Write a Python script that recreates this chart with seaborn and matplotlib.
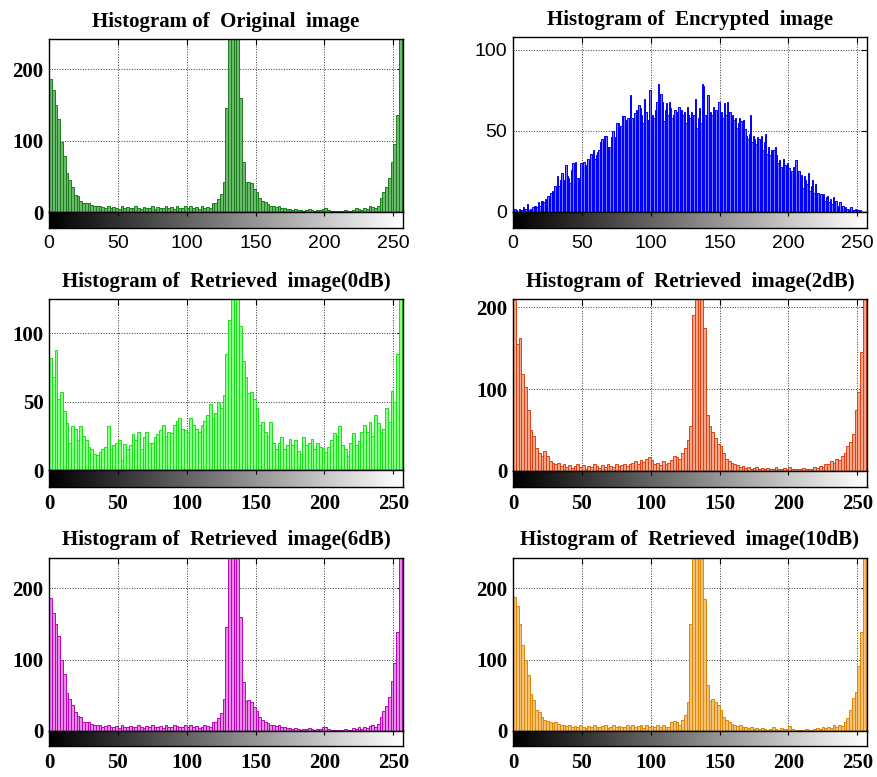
import numpy as np
import pandas as pd
import seaborn as sns
import matplotlib.pyplot as plt

# histogram counts, 2-level bins (0,2,4,...,254) except the encrypted one (1-level bins)
original = [186, 170, 150, 130, 98, 78, 55, 45, 35, 24,
            22, 15, 13, 12, 12, 10, 9, 8, 8, 7,
            6, 8, 5, 7, 6, 4, 9, 5, 7, 6,
            5, 8, 6, 4, 7, 5, 6, 8, 4, 7,
            5, 6, 9, 5, 7, 4, 8, 6, 5, 8,
            6, 9, 5, 7, 4, 8, 6, 7, 5, 13,
            12, 18, 25, 42, 145, 300, 300, 300, 250, 160,
            70, 42, 42, 40, 32, 28, 20, 16, 14, 11,
            9, 9, 7, 8, 6, 5, 4, 4, 3, 4,
            3, 3, 2, 3, 4, 3, 2, 3, 3, 4,
            6, 3, 2, 2, 1, 2, 2, 3, 2, 2,
            3, 5, 4, 3, 5, 4, 8, 7, 6, 9,
            20, 28, 35, 47, 70, 95, 136, 300]

encrypted = [1, 2, 1, 0, 2, 1, 1, 3, 1, 2, 5, 1, 2, 1, 3, 4,
             4, 3, 6, 4, 7, 7, 6, 8, 7, 10, 9, 12, 13, 11, 16, 15,
             22, 16, 20, 24, 18, 20, 29, 22, 21, 18, 26, 30, 20, 31, 21, 20,
             21, 30, 28, 31, 29, 26, 33, 30, 36, 28, 38, 33, 35, 37, 38, 43,
             45, 41, 47, 47, 40, 38, 40, 46, 50, 43, 46, 55, 55, 49, 53, 59,
             59, 57, 53, 58, 56, 72, 58, 53, 61, 63, 60, 66, 64, 60, 55, 70,
             62, 57, 50, 75, 43, 60, 58, 63, 68, 79, 62, 73, 68, 56, 63, 67,
             60, 68, 64, 58, 60, 63, 55, 62, 65, 57, 63, 60, 62, 55, 65, 60,
             58, 62, 55, 60, 70, 52, 58, 64, 55, 79, 78, 60, 56, 72, 58, 62,
             60, 65, 55, 63, 60, 68, 57, 62, 58, 67, 60, 68, 55, 62, 56, 60,
             57, 58, 52, 55, 58, 56, 50, 57, 51, 47, 45, 48, 60, 43, 47, 45,
             42, 46, 45, 40, 47, 38, 43, 48, 36, 40, 35, 38, 33, 38, 40, 35,
             30, 32, 28, 26, 33, 29, 25, 30, 27, 22, 25, 28, 20, 32, 22, 25,
             18, 23, 15, 22, 20, 17, 24, 13, 16, 20, 12, 17, 10, 12, 8, 11,
             9, 11, 7, 9, 10, 6, 8, 5, 9, 5, 7, 3, 4, 6, 3, 4,
             2, 3, 2, 1, 2, 3, 1, 1, 2, 1, 1, 0, 1, 0, 0, 0]

retrieved_0db = [82, 68, 88, 52, 57, 43, 34, 20, 32, 30,
                 22, 32, 25, 22, 17, 15, 12, 11, 13, 15,
                 17, 32, 15, 18, 20, 22, 7, 19, 15, 18,
                 26, 22, 28, 15, 24, 28, 20, 20, 24, 26,
                 29, 33, 25, 28, 27, 33, 36, 38, 30, 29,
                 28, 38, 33, 30, 28, 33, 36, 40, 48, 38,
                 42, 50, 45, 55, 85, 110, 130, 130, 130, 105,
                 80, 68, 56, 57, 52, 45, 33, 35, 28, 25,
                 35, 20, 15, 20, 24, 15, 18, 23, 18, 22,
                 14, 12, 24, 18, 20, 23, 15, 20, 17, 16,
                 13, 17, 22, 27, 25, 32, 18, 15, 10, 20,
                 27, 18, 21, 28, 33, 28, 35, 25, 40, 34,
                 28, 30, 45, 35, 58, 50, 85, 130]

retrieved_2db = [215, 155, 162, 118, 103, 75, 50, 43, 28, 22,
                 18, 25, 18, 12, 10, 8, 10, 6, 8, 5,
                 7, 4, 6, 8, 5, 7, 3, 6, 5, 8,
                 6, 4, 7, 5, 9, 6, 5, 8, 6, 7,
                 9, 6, 8, 10, 12, 9, 14, 11, 15, 17,
                 13, 8, 10, 7, 12, 9, 10, 14, 18, 17,
                 15, 22, 28, 38, 55, 190, 230, 230, 230, 175,
                 68, 55, 48, 40, 33, 30, 22, 15, 12, 10,
                 8, 7, 5, 6, 4, 5, 3, 4, 5, 3,
                 4, 3, 4, 2, 3, 5, 3, 2, 4, 3,
                 5, 3, 2, 3, 2, 4, 3, 2, 3, 5,
                 4, 6, 5, 8, 9, 12, 10, 15, 14, 18,
                 22, 30, 35, 45, 75, 96, 145, 230]

retrieved_6db = [186, 165, 150, 133, 100, 80, 53, 45, 37, 26,
                 21, 19, 12, 13, 12, 10, 9, 8, 9, 6,
                 7, 8, 5, 6, 7, 4, 8, 6, 5, 7,
                 6, 5, 8, 5, 4, 7, 6, 9, 5, 6,
                 7, 4, 8, 6, 5, 9, 7, 5, 6, 8,
                 6, 8, 5, 7, 4, 6, 8, 7, 6, 12,
                 12, 18, 25, 45, 145, 300, 300, 300, 250, 160,
                 68, 42, 44, 40, 33, 28, 20, 16, 13, 11,
                 9, 8, 7, 8, 5, 5, 4, 4, 3, 4,
                 3, 2, 3, 3, 4, 3, 2, 3, 3, 5,
                 5, 3, 2, 2, 2, 1, 2, 3, 2, 2,
                 4, 3, 5, 3, 5, 4, 7, 8, 6, 10,
                 20, 28, 35, 48, 70, 95, 138, 300]

retrieved_10db = [187, 175, 150, 120, 100, 78, 52, 44, 30, 26,
                  20, 15, 14, 12, 11, 12, 10, 8, 9, 7,
                  8, 6, 7, 5, 8, 6, 4, 7, 5, 8,
                  6, 5, 7, 9, 4, 6, 8, 5, 7, 6,
                  5, 8, 6, 9, 5, 7, 8, 4, 9, 6,
                  7, 5, 9, 6, 8, 5, 6, 12, 14, 13,
                  8, 15, 22, 40, 150, 300, 300, 300, 260, 185,
                  65, 42, 45, 40, 36, 30, 20, 15, 12, 10,
                  9, 7, 8, 6, 5, 4, 5, 3, 4, 3,
                  4, 3, 2, 3, 5, 3, 2, 4, 3, 3,
                  7, 3, 2, 2, 1, 2, 3, 2, 2, 3,
                  4, 3, 5, 4, 6, 4, 8, 5, 9, 7,
                  12, 18, 30, 46, 55, 91, 139, 260]

titles = ['Histogram of  Original  image', 'Histogram of  Encrypted  image',
          'Histogram of  Retrieved  image(0dB)', 'Histogram of  Retrieved  image(2dB)',
          'Histogram of  Retrieved  image(6dB)', 'Histogram of  Retrieved  image(10dB)']
xticks = [0, 50, 100, 150, 200, 250]

sns.set_theme(style='white')
plt.rcParams['font.family'] = ['Liberation Serif', 'DejaVu Sans']
plt.rcParams['axes.edgecolor'] = 'black'
plt.rcParams['axes.linewidth'] = 1.0
plt.rcParams['text.color'] = 'black'

W, H = 877, 777
fig = plt.figure(figsize=(W / 100, H / 100), dpi=100)

serif_b = dict(family='Liberation Serif', weight='bold', size=15, color='black')
sans = dict(family='Liberation Sans', weight='normal', size=14, color='black')

# (data, binwidth, edge, face, ymax, yticks, left, top, zero, cbar bottom, xfont, yfont)
panels = [
    (original, 2, '#1a7f1a', '#6fb86f', 242, [0, 100, 200], 49, 39, 212, 228, sans, serif_b),
    (encrypted, 1, '#0000ff', '#7a7aff', 108, [0, 50, 100], 513, 37, 212, 228, sans, sans),
    (retrieved_0db, 2, '#19e019', '#8cff8c', 125, [0, 50, 100], 49, 299, 470, 487, serif_b, serif_b),
    (retrieved_2db, 2, '#e0400f', '#f2a88c', 210, [0, 100, 200], 513, 299, 471, 487, serif_b, serif_b),
    (retrieved_6db, 2, '#c000c0', '#e58ce5', 242, [0, 100, 200], 49, 558, 731, 746, serif_b, serif_b),
    (retrieved_10db, 2, '#e08600', '#f3c27a', 242, [0, 100, 200], 513, 558, 731, 746, serif_b, serif_b),
]

grad = np.arange(256)[None, :]
for (counts, bw, edge, face, ymax, yt, left, top, zero, cbot, xf, yf), title in zip(panels, titles):
    ax = fig.add_axes([left / W, 1 - zero / H, 354 / W, (zero - top) / H])
    df = pd.DataFrame({'level': np.arange(len(counts)) * bw + bw / 2, 'count': counts})
    sns.histplot(data=df, x='level', weights='count', binwidth=bw, binrange=(0, 256),
                 color=face, edgecolor=edge, linewidth=0.7, alpha=1, ax=ax)
    ax.set_xlim(0, 257)
    ax.set_ylim(0, ymax)
    ax.set_xticks(xticks)
    ax.set_yticks(yt)
    ax.set_xlabel('')
    ax.set_ylabel('')
    ax.grid(True, linestyle=':', color='#333333', linewidth=0.7)
    ax.set_axisbelow(True)
    ax.tick_params(direction='in', top=True, right=True, length=4, width=0.8,
                   labelbottom=False, pad=4, colors='black')
    ax.set_yticklabels([str(v) for v in yt], fontdict=yf)
    ax.set_title(title, fontdict=dict(family='Liberation Serif', weight='bold',
                                      size=15, color='black'), pad=9)

    cax = fig.add_axes([left / W, 1 - cbot / H, 354 / W, (cbot - zero) / H])
    cax.imshow(grad, cmap='gray', aspect='auto', extent=(0, 256, 0, 1))
    cax.set_xlim(0, 257)
    cax.set_yticks([])
    cax.set_xticks(xticks)
    cax.set_xticklabels([str(v) for v in xticks], fontdict=xf)
    cax.tick_params(direction='in', top=True, length=3, width=0.8, pad=5, colors='black')

fig.savefig('out.png', dpi=100)
